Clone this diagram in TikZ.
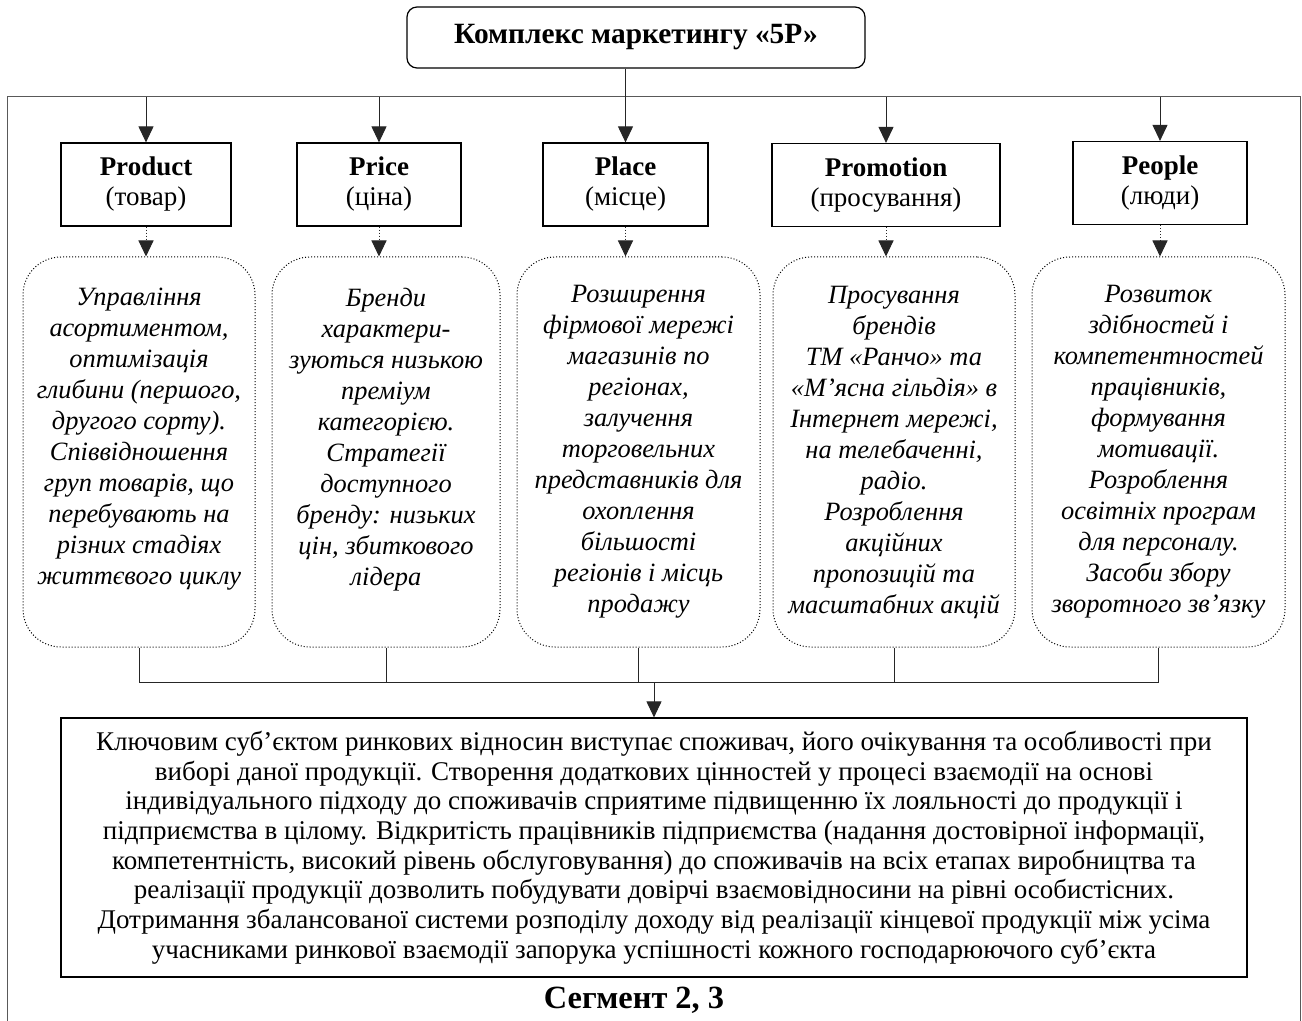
\documentclass[tikz,border=0pt]{standalone}
\usepackage{fontspec}
\setmainfont{Liberation Serif}
\usetikzlibrary{arrows.meta, positioning}

\begin{document}
\begin{tikzpicture}[x=0.5pt, y=-0.5pt, >={Triangle[length=8pt, width=7.5pt]},
    every node/.style={font=\fontsize{13}{13.5}\selectfont},
    headbox/.style={draw, line width=0.6pt, rounded corners=5pt, minimum width=229pt, minimum height=30.5pt, font=\fontsize{14.7}{16}\selectfont\bfseries},
    pbox/.style={draw, line width=0.6pt, minimum height=41.5pt, align=center, font=\fontsize{13.5}{15}\selectfont},
    descbox/.style={draw, densely dotted, line width=0.5pt, rounded corners=19pt, minimum height=195pt, align=center, font=\fontsize{13.2}{15.5}\selectfont\itshape},
    sumbox/.style={draw, line width=0.6pt, minimum width=593pt, minimum height=129.5pt, align=center, font=\fontsize{13.5}{14.85}\selectfont},
    link/.style={draw=black!85, line width=0.5pt}]

    \useasboundingbox (0,0) rectangle (1302,1021);

    % 1. Заголовок і рамка
    \node[headbox] (title) at (636,37.5) {Комплекс маркетингу «5Р»};
    \coordinate (ftl) at (7,97);
    \coordinate (ftr) at (1300,97);
    \coordinate (fbl) at (7,1021);
    \coordinate (fbr) at (1300,1021);
    \draw[link, draw=black!65] (fbl) -- (ftl) -- (ftr) -- (fbr);

    % 2. Складові 5Р
    \node[pbox, minimum width=85pt] (product) at (146,184.5) {\textbf{Product}\\(товар)};
    \node[pbox, minimum width=82pt] (price) at (379,184.5) {\textbf{Price}\\(ціна)};
    \node[pbox, minimum width=82.5pt] (place) at (625.5,184.5) {\textbf{Place}\\(місце)};
    \node[pbox, minimum width=114pt] (promotion) at (886,185) {\textbf{Promotion}\\(просування)};
    \node[pbox, minimum width=87pt] (people) at (1160,183) {\textbf{People}\\(люди)};

    \draw[link, ->] (title.south -| place.north) -- (place.north);
    \foreach \p in {product, price, promotion, people}
      \draw[link, ->] (\p.north |- ftl) -- (\p.north);

    % 3. Зміст складових
    \node[descbox, minimum width=116pt] (prodtext) at (139,452)
      {Управління\\асортиментом,\\оптимізація\\глибини (першого,\\другого сорту).\\Співвідношення\\груп товарів, що\\перебувають на\\різних стадіях\\життєвого циклу\\\mbox{}};
    \node[descbox, minimum width=114pt] (pricetext) at (386,452)
      {Бренди\\характери-\\зуються низькою\\преміум\\категорією.\\Стратегії\\доступного\\бренду: низьких\\цін, збиткового\\лідера\\\mbox{}};
    \node[descbox, minimum width=121.5pt] (placetext) at (638.5,452)
      {Розширення\\фірмової мережі\\магазинів по\\регіонах,\\залучення\\торговельних\\представників для\\охоплення\\більшості\\регіонів і місць\\продажу};
    \node[descbox, minimum width=121pt] (promotext) at (894,452)
      {Просування\\брендів\\ТМ «Ранчо» та\\«М’ясна гільдія» в\\Інтернет мережі,\\на телебаченні,\\радіо.\\Розроблення\\акційних\\пропозицій та\\масштабних акцій};
    \node[descbox, minimum width=126.5pt] (peopletext) at (1158.5,452)
      {Розвиток\\здібностей і\\компетентностей\\працівників,\\формування\\мотивації.\\Розроблення\\освітніх програм\\для персоналу.\\Засоби збору\\зворотного зв’язку};

    \foreach \p/\d in {product/prodtext, price/pricetext, place/placetext, promotion/promotext, people/peopletext}
      \draw[link, densely dotted, ->] (\p.south) -- (\p.south |- \d.north);

    % 4. Підсумок
    \node[sumbox] (summary) at (654,847.5)
      {Ключовим суб’єктом ринкових відносин виступає споживач, його очікування та особливості при\\
       виборі даної продукції. Створення додаткових цінностей у процесі взаємодії на основі\\
       індивідуального підходу до споживачів сприятиме підвищенню їх лояльності до продукції і\\
       підприємства в цілому. Відкритість працівників підприємства (надання достовірної інформації,\\
       компетентність, високий рівень обслуговування) до споживачів на всіх етапах виробництва та\\
       реалізації продукції дозволить побудувати довірчі взаємовідносини на рівні особистісних.\\
       Дотримання збалансованої системи розподілу доходу від реалізації кінцевої продукції між усіма\\
       учасниками ринкової взаємодії запорука успішності кожного господарюючого суб’єкта};
    \coordinate (bus) at (654,682);
    \foreach \d in {prodtext, pricetext, placetext, promotext, peopletext}
      \draw[link] (\d.south) -- (\d.south |- bus);
    \draw[link] (prodtext.south |- bus) -- (peopletext.south |- bus);
    \draw[link, ->] (summary.north |- bus) -- (summary.north);

    \node[font=\fontsize{16.2}{18}\selectfont\bfseries] (segment) at (634,1000) {Сегмент 2, 3};

\end{tikzpicture}
\end{document}
